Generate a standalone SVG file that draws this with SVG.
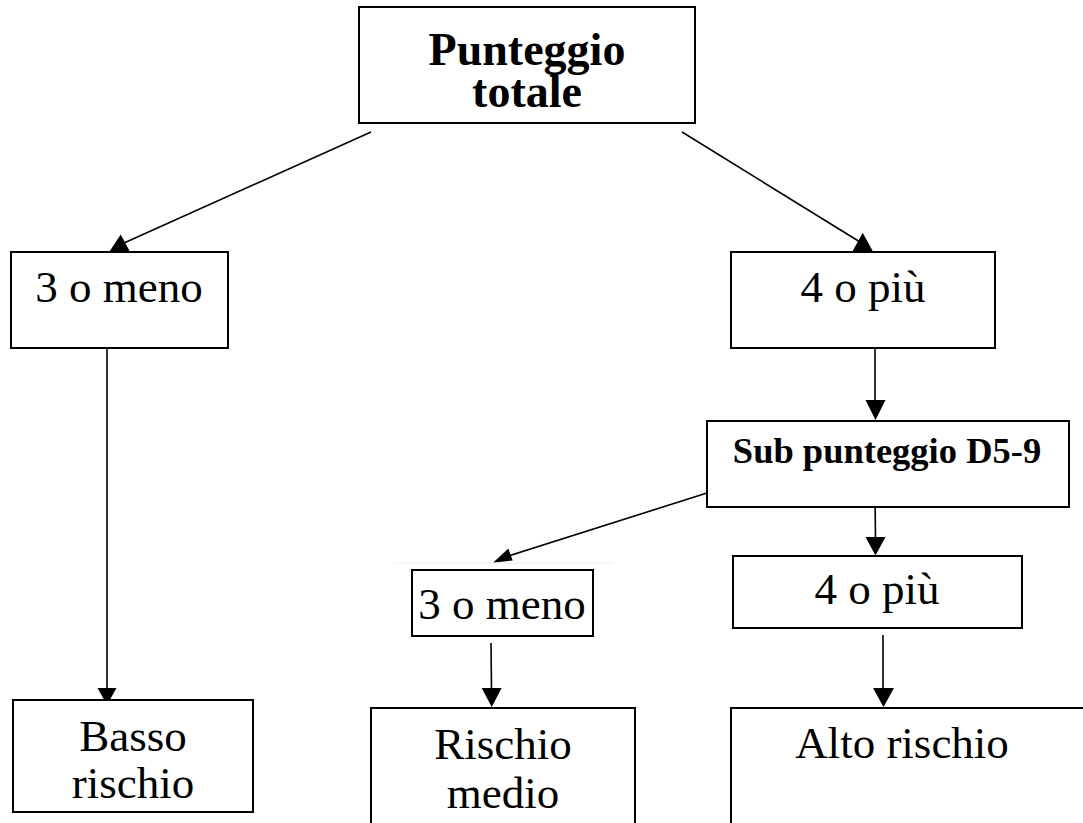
<svg xmlns="http://www.w3.org/2000/svg" width="1083" height="823" viewBox="0 0 1083 823">
<style>
.box{fill:#fff;stroke:#000;stroke-width:2}
.t{font-family:"Liberation Serif","Times New Roman",serif;font-size:45px;fill:#000;text-anchor:middle}
.b{font-weight:bold}
.ln{stroke:#000;stroke-width:1.6;fill:none}
.ah{fill:#000;stroke:none}
</style>
<rect width="1083" height="823" fill="#fff"/>
<g id="connectors">
<line class="ln" x1="371" y1="132" x2="124" y2="243"/>
<polygon class="ah" points="120.7,234.5 109.3,251.7 130,251.7"/>
<line class="ln" x1="682" y1="132" x2="860" y2="242"/>
<polygon class="ah" points="862.7,232.7 852.7,251 872.7,251"/>
<line class="ln" x1="107" y1="348" x2="107" y2="690"/>
<polygon class="ah" points="97.5,688 116.5,688 107,705"/>
<line class="ln" x1="875" y1="348" x2="875" y2="402"/>
<polygon class="ah" points="865.5,400 885.5,400 875.5,420"/>
<line class="ln" x1="707" y1="493" x2="505" y2="557"/>
<polygon class="ah" points="508.3,548.5 493,562.7 512.7,560.5"/>
<line class="ln" x1="875" y1="492" x2="875.5" y2="540"/>
<polygon class="ah" points="865.5,537 885.5,537 875.5,555.5"/>
<line class="ln" x1="491" y1="643" x2="491.5" y2="690"/>
<polygon class="ah" points="481.7,688 501.7,688 491.7,707"/>
<line class="ln" x1="883" y1="635" x2="883" y2="690"/>
<polygon class="ah" points="873,688 894,688 883.5,707"/>
<line x1="394" y1="563" x2="612" y2="563" stroke="#eeeeee" stroke-width="1"/>
</g>
<g id="n-punteggio-totale">
<rect class="box" x="359" y="7" width="336" height="116"/>
<text class="t b" x="527" y="65" style="font-size:46px">Punteggio</text>
<text class="t b" x="527" y="107" style="font-size:46px">totale</text>
</g>
<g id="n-3-o-meno-a">
<rect class="box" x="11" y="252" width="217" height="96"/>
<text class="t" x="119" y="302">3 o meno</text>
</g>
<g id="n-4-o-piu-a">
<rect class="box" x="731" y="252" width="264" height="96"/>
<text class="t" x="863" y="302">4 o più</text>
</g>
<g id="n-sub-punteggio">
<rect class="box" x="707" y="421" width="362" height="86"/>
<text class="t b" x="887" y="463" style="font-size:36.5px">Sub punteggio D5-9</text>
</g>
<g id="n-3-o-meno-b">
<rect class="box" x="412" y="570" width="181" height="66"/>
<text class="t" x="502" y="619">3 o meno</text>
</g>
<g id="n-4-o-piu-b">
<rect class="box" x="733" y="556" width="289" height="72"/>
<text class="t" x="877" y="604">4 o più</text>
</g>
<g id="n-basso-rischio">
<rect class="box" x="13" y="700" width="240" height="112"/>
<text class="t" x="133" y="751">Basso</text>
<text class="t" x="133" y="798">rischio</text>
</g>
<g id="n-rischio-medio">
<rect class="box" x="371" y="708" width="264" height="140"/>
<text class="t" x="503" y="759">Rischio</text>
<text class="t" x="503" y="808">medio</text>
</g>
<g id="n-alto-rischio">
<rect class="box" x="731" y="708" width="400" height="140"/>
<text class="t" x="902" y="758">Alto rischio</text>
</g>
</svg>
